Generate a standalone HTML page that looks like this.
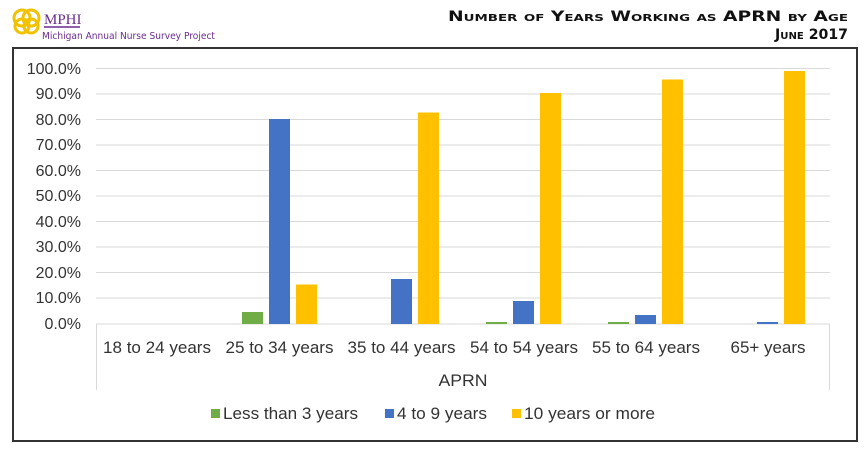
<!DOCTYPE html>
<html><head><style>
body{margin:0;background:#fff;}
</style></head><body>
<svg width="864" height="455" xmlns="http://www.w3.org/2000/svg" style="display:block">
<rect width="864" height="455" fill="#fff"/>
<!-- logo -->
<g fill="none" stroke="#f2c200" stroke-width="3">
<circle cx="22" cy="18" r="8"/><circle cx="31" cy="18" r="8"/>
<circle cx="22" cy="26" r="7"/><circle cx="31" cy="26" r="7"/>
</g>
<text x="44" y="24" font-family="Liberation Serif, serif" font-size="15" fill="#6a2c91">MPHI</text>
<line x1="44" y1="27" x2="80" y2="27" stroke="#6a2c91" stroke-width="1.5"/>
<text x="42" y="39" font-family="DejaVu Sans, sans-serif" font-size="9.5" fill="#6a2c91" textLength="173" lengthAdjust="spacingAndGlyphs">Michigan Annual Nurse Survey Project</text>
<!-- title -->
<text x="448" y="21" font-family="DejaVu Sans, sans-serif" font-weight="bold" font-size="14" fill="#111" style="font-variant:small-caps" textLength="400" lengthAdjust="spacingAndGlyphs">Number of Years Working as APRN by Age</text>
<text x="775" y="39" font-family="DejaVu Sans, sans-serif" font-weight="bold" font-size="14" fill="#111" style="font-variant:small-caps" textLength="73" lengthAdjust="spacingAndGlyphs">June 2017</text>
<!-- frame -->
<rect x="13" y="48" width="844" height="393" fill="#fff" stroke="#333" stroke-width="2"/>
<g stroke="#d9d9d9" stroke-width="1">
<line x1="96" y1="68.5" x2="830" y2="68.5"/><line x1="96" y1="94" x2="830" y2="94"/>
<line x1="96" y1="119.5" x2="830" y2="119.5"/><line x1="96" y1="145" x2="830" y2="145"/>
<line x1="96" y1="170.5" x2="830" y2="170.5"/><line x1="96" y1="196" x2="830" y2="196"/>
<line x1="96" y1="221.5" x2="830" y2="221.5"/><line x1="96" y1="247" x2="830" y2="247"/>
<line x1="96" y1="272.5" x2="830" y2="272.5"/><line x1="96" y1="298" x2="830" y2="298"/>
<line x1="96" y1="324" x2="830" y2="324"/>
<line x1="96.5" y1="324" x2="96.5" y2="390"/><line x1="829.5" y1="324" x2="829.5" y2="390"/>
</g>
<g font-family="Liberation Sans, sans-serif" font-size="16" fill="#333" text-anchor="end">
<text x="81" y="74">100.0%</text><text x="81" y="99">90.0%</text><text x="81" y="125">80.0%</text>
<text x="81" y="150">70.0%</text><text x="81" y="176">60.0%</text><text x="81" y="201">50.0%</text>
<text x="81" y="227">40.0%</text><text x="81" y="252">30.0%</text><text x="81" y="278">20.0%</text>
<text x="81" y="303">10.0%</text><text x="81" y="329">0.0%</text>
</g>
<g>
<rect x="242" y="312" width="21" height="12" fill="#70ad47"/>
<rect x="269" y="119" width="21" height="205" fill="#4472c4"/>
<rect x="296" y="284.5" width="21" height="39.5" fill="#ffc000"/>
<rect x="391" y="279" width="21" height="45" fill="#4472c4"/>
<rect x="418" y="112.5" width="21" height="211.5" fill="#ffc000"/>
<rect x="486" y="322" width="21" height="2" fill="#70ad47"/>
<rect x="513" y="301" width="21" height="23" fill="#4472c4"/>
<rect x="540" y="93" width="21" height="231" fill="#ffc000"/>
<rect x="608" y="322" width="21" height="2" fill="#70ad47"/>
<rect x="635" y="315" width="21" height="9" fill="#4472c4"/>
<rect x="662" y="79.5" width="21" height="244.5" fill="#ffc000"/>
<rect x="757" y="322" width="21" height="2" fill="#4472c4"/>
<rect x="784" y="71" width="21" height="253" fill="#ffc000"/>
</g>
<g font-family="Liberation Sans, sans-serif" font-size="16.5" fill="#333" text-anchor="middle">
<text x="157" y="353" textLength="108" lengthAdjust="spacingAndGlyphs">18 to 24 years</text>
<text x="279.5" y="353" textLength="108" lengthAdjust="spacingAndGlyphs">25 to 34 years</text>
<text x="401.5" y="353" textLength="108" lengthAdjust="spacingAndGlyphs">35 to 44 years</text>
<text x="524" y="353" textLength="108" lengthAdjust="spacingAndGlyphs">54 to 54 years</text>
<text x="646" y="353" textLength="108" lengthAdjust="spacingAndGlyphs">55 to 64 years</text>
<text x="768" y="353" textLength="75" lengthAdjust="spacingAndGlyphs">65+ years</text>
<text x="463" y="386" textLength="49" lengthAdjust="spacingAndGlyphs">APRN</text>
</g>
<g font-family="Liberation Sans, sans-serif" font-size="16.5" fill="#333">
<rect x="211" y="409" width="9" height="9" fill="#70ad47"/><text x="223" y="419" textLength="135" lengthAdjust="spacingAndGlyphs">Less than 3 years</text>
<rect x="385" y="409" width="9" height="9" fill="#4472c4"/><text x="397" y="419" textLength="90" lengthAdjust="spacingAndGlyphs">4 to 9 years</text>
<rect x="512" y="409" width="9" height="9" fill="#ffc000"/><text x="524" y="419" textLength="131" lengthAdjust="spacingAndGlyphs">10 years or more</text>
</g>
</svg>
</body></html>
